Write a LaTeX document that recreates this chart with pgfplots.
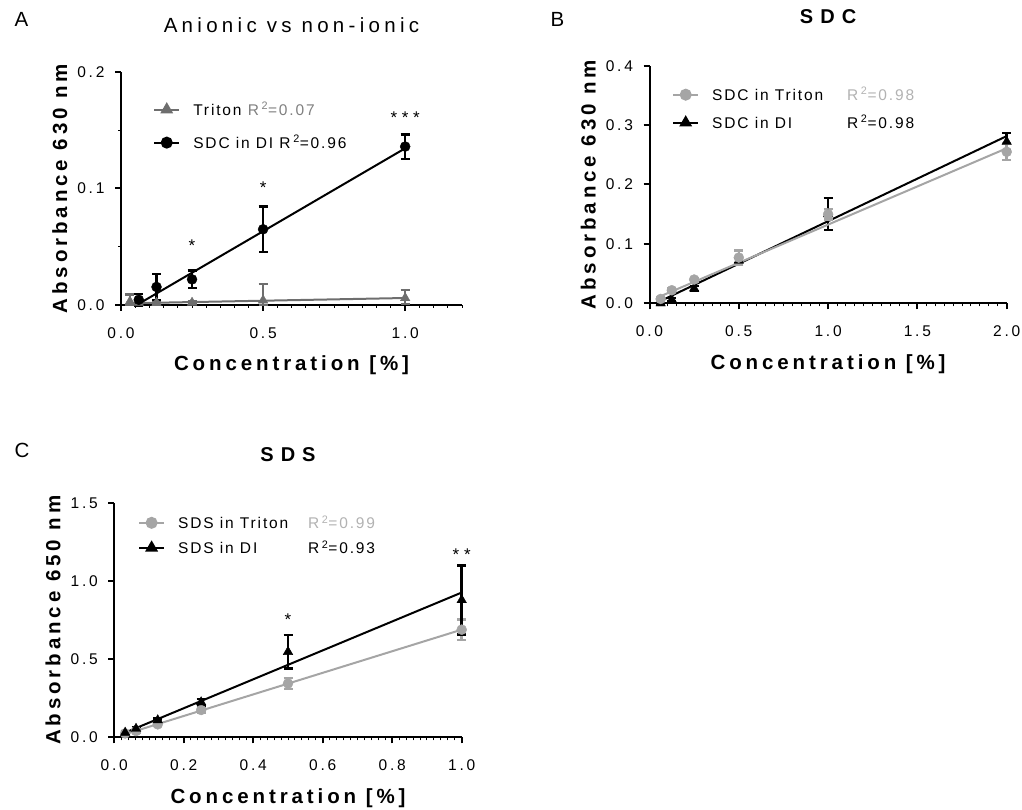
\documentclass[border=0pt]{standalone}
\usepackage{fontspec}
\usepackage{pgfplots}
\pgfplotsset{compat=1.18}
\setmainfont{Liberation Sans}
\newfontfamily\tickfont[LetterSpace=18]{Liberation Sans}
\newfontfamily\labfont[LetterSpace=19]{Liberation Sans}
\newfontfamily\legfont[LetterSpace=12]{Liberation Sans}
\newfontfamily\titfont[LetterSpace=21]{Liberation Sans}
\newfontfamily\btitfont[LetterSpace=35]{Liberation Sans}
\definecolor{dgray}{RGB}{110,110,110}
\definecolor{dgraytext}{RGB}{128,128,128}
\definecolor{lgray}{RGB}{165,165,165}
\definecolor{lgraytext}{RGB}{178,178,178}
\tikzset{starnode/.style={font=\fontsize{17}{18}\selectfont, anchor=center, yshift=-3pt}}
\pgfplotsset{
  panel/.style={
    scale only axis, anchor=south west,
    axis x line*=bottom, axis y line*=left,
    axis line style={line width=2pt},
    tick align=outside,
    major tick length=6pt, minor tick length=3pt,
    major tick style={line width=2pt,black},
    minor tick style={line width=1pt,black},
    clip=false,
    /pgf/number format/assume math mode=true,
    xticklabel style={font=\tickfont\fontsize{15.5}{17}\selectfont, yshift=-13pt,
      /pgf/number format/fixed,/pgf/number format/fixed zerofill,/pgf/number format/precision=1},
    yticklabel style={font=\tickfont\fontsize{15.5}{17}\selectfont, xshift=-7pt,
      /pgf/number format/fixed,/pgf/number format/fixed zerofill,/pgf/number format/precision=1},
    xlabel style={font=\labfont\bfseries\fontsize{20.5}{24}\selectfont,
      at={(axis description cs:0.5,0)}, anchor=base, yshift=-66pt},
    ylabel style={font=\labfont\bfseries\fontsize{20.5}{24}\selectfont,
      at={([xshift=-54pt]axis description cs:0,0.5)}, anchor=base},
    legend cell align=left,
    legend image code/.code={\draw[mark repeat=2,mark phase=2] plot coordinates {(0pt,0pt) (12.5pt,0pt) (25pt,0pt)};},
    legend style={draw=none, fill=none, inner sep=0pt, column sep=13pt,
      nodes={inner sep=0pt, text height=11pt, text depth=0pt, font=\legfont\fontsize{15.5}{17}\selectfont}},
  },
  ebar/.style={error bars/.cd, y dir=both, y explicit,
    error bar style={line width=2.5pt,#1},
    error mark options={rotate=90, line width=2.5pt, mark size=4.5pt,#1}},
}
\begin{document}
\begin{tikzpicture}
\path[use as bounding box] (0,0) rectangle (1022pt,809pt);
\node[anchor=base west, font=\fontsize{20.5}{22}\selectfont] at (11pt,782pt) {A};
\node[anchor=base west, font=\fontsize{20.5}{22}\selectfont] at (547pt,782pt) {B};
\node[anchor=base west, font=\fontsize{20.5}{22}\selectfont] at (11pt,351pt) {C};

% ---------------- Panel A
\begin{axis}[panel, at={(121pt,504pt)}, width=341pt, height=233pt,
  xmin=0, xmax=1.2, ymin=0, ymax=0.2,
  xtick={0,0.5,1.0}, minor xtick={0.05,0.1,...,1.2},
  ytick={0,0.1,0.2}, minor ytick={0.05,0.15},
  xlabel={Concentration [\%]}, ylabel={Absorbance 630 nm},
  title={Anionic vs non-ionic},
  title style={font=\titfont\fontsize{20.5}{22}\selectfont, at={(axis description cs:0.5,1)}, anchor=base, yshift=33pt},
  legend style={at={(axis description cs:0.094,0.863)}, anchor=north west, row sep=22pt},
]
\addlegendimage{dgray, line width=2pt, mark=triangle*, mark size=5.5pt, mark options={fill=dgray}}
\addlegendentry{Triton \textcolor{dgraytext}{R\,\textsuperscript{2}=0.07}}
\addlegendimage{black, line width=2pt, mark=*, mark size=5pt}
\addlegendentry{SDC in DI R\,\textsuperscript{2}=0.96}
% Triton fit and data
\addplot[dgray, line width=2pt, no marks, forget plot] coordinates {(0.03125,0.0015) (1.0,0.006)};
\addplot[only marks, mark=triangle*, mark size=5.5pt, dgray, mark options={fill=dgray}, forget plot, ebar=dgray]
  coordinates {
  (0.03125,0.003) += (0,0.006) -= (0,0.003)
  (0.0625,0.002) += (0,0.003) -= (0,0.003)
  (0.125,0.002) += (0,0.002) -= (0,0.002)
  (0.25,0.002) += (0,0.001) -= (0,0.001)
  (0.5,0.004) += (0,0.014) -= (0,0.004)
  (1.0,0.006) += (0,0.007) -= (0,0.005)
  };
% SDC in DI
\addplot[only marks, mark=*, mark size=5pt, black, forget plot, ebar=black]
  coordinates {
  (0.0625,0.0045) +- (0,0.005)
  (0.125,0.0155) +- (0,0.011)
  (0.25,0.022) +- (0,0.0075)
  (0.5,0.065) +- (0,0.0195)
  (1.0,0.136) +- (0,0.0105)
  };
\addplot[black, line width=2pt, no marks, forget plot] coordinates {(0.0625,0.001) (1.0,0.1345)};
\node[starnode] at (axis cs:0.25,0.0534) {*};
\node[starnode] at (axis cs:0.5,0.1029) {*};
\node[starnode] at (axis cs:1.0,0.163) {* * *};
\end{axis}

% ---------------- Panel B
\begin{axis}[panel, at={(649.5pt,505.7pt)}, width=357.2pt, height=237.6pt,
  xmin=0, xmax=2, ymin=0, ymax=0.4,
  xtick={0,0.5,1.0,1.5,2.0}, minor xtick={0.05,0.1,...,2.0},
  ytick={0,0.1,0.2,0.3,0.4},
  xlabel={Concentration [\%]}, ylabel={Absorbance 630 nm},
  title={\bfseries SDC},
  title style={font=\btitfont\fontsize{20}{22}\selectfont, at={(axis description cs:0.5,1)}, anchor=base, yshift=35.7pt},
  legend style={at={(axis description cs:0.063,0.902)}, anchor=north west, row sep=17pt},
]
\addlegendimage{lgray, line width=2pt, mark=*, mark size=5pt, mark options={fill=lgray}}
\addlegendentry{\makebox[135pt][l]{SDC in Triton}\textcolor{lgraytext}{R\,\textsuperscript{2}=0.98}}
\addlegendimage{black, line width=2pt, mark=triangle*, mark size=5.5pt}
\addlegendentry{\makebox[135pt][l]{SDC in DI}R\,\textsuperscript{2}=0.98}
% SDC in DI (black triangles)
\addplot[only marks, mark=triangle*, mark size=5.5pt, black, forget plot, ebar=black]
  coordinates {
  (0.0625,0.000) +- (0,0.002)
  (0.125,0.006) +- (0,0.003)
  (0.25,0.025) +- (0,0.004)
  (0.5,0.072) +- (0,0.004)
  (1.0,0.150) +- (0,0.027)
  (2.0,0.272) +- (0,0.015)
  };
\addplot[black, line width=2pt, no marks, forget plot] coordinates {(0.0625,0.004) (2.0,0.2815)};
% SDC in Triton (gray circles)
\addplot[only marks, mark=*, mark size=5pt, lgray, mark options={fill=lgray}, forget plot, ebar=lgray]
  coordinates {
  (0.0625,0.0073) +- (0,0.003)
  (0.125,0.022) +- (0,0.003)
  (0.25,0.040) +- (0,0.003)
  (0.5,0.077) +- (0,0.012)
  (1.0,0.150) +- (0,0.009)
  (2.0,0.255) +- (0,0.014)
  };
\addplot[lgray, line width=2pt, no marks, forget plot] coordinates {(0.0625,0.012) (2.0,0.261)};
\end{axis}

% ---------------- Panel C
\begin{axis}[panel, at={(114.3pt,71.7pt)}, width=347.4pt, height=234pt,
  xmin=0, xmax=1, ymin=0, ymax=1.5,
  xtick={0,0.2,0.4,0.6,0.8,1.0}, minor xtick={0.02,0.04,...,1.0},
  ytick={0,0.5,1.0,1.5},
  xlabel={Concentration [\%]}, ylabel={Absorbance 650 nm},
  title={\bfseries SDS},
  title style={font=\btitfont\fontsize{20}{22}\selectfont, at={(axis description cs:0.5,1)}, anchor=base, yshift=35.3pt},
  legend style={at={(axis description cs:0.068,0.941)}, anchor=north west, row sep=14pt},
]
\addlegendimage{lgray, line width=2pt, mark=*, mark size=5pt, mark options={fill=lgray}}
\addlegendentry{\makebox[130pt][l]{SDS in Triton}\textcolor{lgraytext}{R\,\textsuperscript{2}=0.99}}
\addlegendimage{black, line width=2pt, mark=triangle*, mark size=5.5pt}
\addlegendentry{\makebox[130pt][l]{SDS in DI}R\,\textsuperscript{2}=0.93}
% SDS in Triton (gray circles)
\addplot[only marks, mark=*, mark size=5pt, lgray, mark options={fill=lgray}, forget plot, ebar=lgray]
  coordinates {
  (0.03125,0.025) +- (0,0.005)
  (0.0625,0.040) +- (0,0.01)
  (0.125,0.083) +- (0,0.01)
  (0.25,0.175) +- (0,0.015)
  (0.5,0.345) +- (0,0.035)
  (1.0,0.690) +- (0,0.065)
  };
\addplot[lgray, line width=2pt, no marks, forget plot] coordinates {(0.03125,0.02) (1.0,0.69)};
% SDS in DI (black triangles)
\addplot[only marks, mark=triangle*, mark size=5.5pt, black, forget plot, ebar=black]
  coordinates {
  (0.03125,0.03) +- (0,0.01)
  (0.0625,0.055) +- (0,0.01)
  (0.125,0.11) +- (0,0.01)
  (0.25,0.225) +- (0,0.02)
  (0.5,0.548) +- (0,0.107)
  (1.0,0.88) +- (0,0.22)
  };
\addplot[black, line width=2pt, no marks, forget plot] coordinates {(0.03125,0.03) (1.0,0.928)};
\node[starnode] at (axis cs:0.5,0.773) {*};
\node[starnode] at (axis cs:1.0,1.19) {* *};
\end{axis}
\end{tikzpicture}
\end{document}
